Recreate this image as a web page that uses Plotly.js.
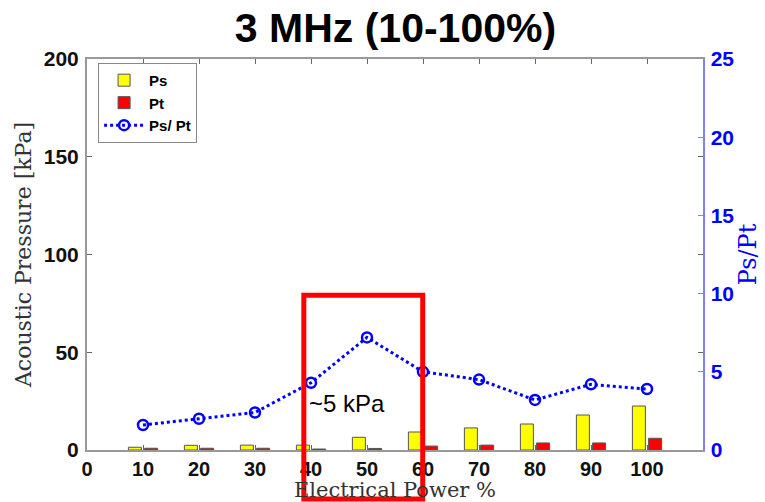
<!DOCTYPE html>
<html>
<head>
<meta charset="utf-8">
<script src="https://cdn.plot.ly/plotly-3.0.1.min.js"></script>
<style>html,body{margin:0;padding:0;background:#fff;}#chart{width:765px;height:502px;}</style>
</head>
<body>
<div id="chart"></div>
<script>
// Data
const power = [10, 20, 30, 40, 50, 60, 70, 80, 90, 100];   // Electrical Power %
const ps = [1.4, 2.4, 2.5, 2.5, 6.5, 9.2, 11.3, 13.3, 17.9, 22.5]; // kPa
const pt = [0.9, 0.9, 0.9, 0.5, 0.8, 2.0, 2.5, 3.6, 3.6, 6.0];    // kPa
const ratio = [1.6, 2.0, 2.4, 4.3, 7.2, 5.0, 4.5, 3.2, 4.2, 3.9]; // Ps/Pt
const xTicks = [0, 10, 20, 30, 40, 50, 60, 70, 80, 90, 100];
const yTicks = [0, 50, 100, 150, 200];
const y2Ticks = [0, 5, 10, 15, 20, 25];

const sans = 'Liberation Sans, Arial, sans-serif';
const serif = 'DejaVu Serif, Liberation Serif, serif';
const tickFont = {family: sans, size: 21, color: '#111', weight: 'bold'};

const traces = [
  {type: 'bar', name: 'Ps', x: power, y: ps,
   marker: {color: '#ffff00', line: {color: '#555', width: 1}}},
  {type: 'bar', name: 'Pt', x: power, y: pt,
   marker: {color: '#ff0000', line: {color: '#555', width: 1}}},
  {type: 'scatter', mode: 'lines+markers', name: 'Ps/ Pt', x: power, y: ratio, yaxis: 'y2',
   line: {color: '#0000ff', width: 3, dash: 'dot'},
   marker: {symbol: 'circle-open', size: 10, color: '#0000ff', line: {width: 2.5, color: '#0000ff'}}}
];

const layout = {
  width: 765, height: 502,
  margin: {l: 87, r: 62, t: 59, b: 52},
  paper_bgcolor: '#fff', plot_bgcolor: '#fff',
  barmode: 'group', bargap: 0.42, bargroupgap: 0.2,
  showlegend: true,
  title: {text: '<b>3 MHz (10-100%)</b>', x: 0.517, xanchor: 'center', y: 0.945, yanchor: 'middle',
          font: {family: sans, size: 41, color: '#000'}},
  xaxis: {range: [0, 110], tickvals: xTicks, ticktext: xTicks.map(String),
          ticks: 'inside', ticklen: 5, tickcolor: '#666', mirror: 'ticks',
          showline: true, linecolor: '#999', linewidth: 2, showgrid: false, zeroline: false,
          tickfont: Object.assign({}, tickFont, {size: 20}), ticklabelstandoff: 0,
          title: {text: 'Electrical Power %', standoff: 6,
                  font: {family: serif, size: 21, color: '#333'}}},
  yaxis: {range: [0, 200], tickvals: yTicks,
          ticks: 'inside', ticklen: 5, tickcolor: '#666', mirror: 'ticks',
          showline: true, linecolor: '#999', linewidth: 2, showgrid: false, zeroline: false,
          tickfont: tickFont, ticklabelstandoff: 2,
          title: {text: 'Acoustic Pressure [kPa]', standoff: 6,
                  font: {family: serif, size: 22, color: '#333'}}},
  yaxis2: {range: [0, 25], tickvals: y2Ticks, overlaying: 'y', side: 'right',
           ticks: 'inside', ticklen: 5, tickcolor: '#8080ff',
           showline: true, linecolor: '#8080ff', linewidth: 1.5, showgrid: false, zeroline: false,
           tickfont: Object.assign({}, tickFont, {color: '#0000ff'}), ticklabelstandoff: 2,
           title: {text: 'Ps/Pt', standoff: 0,
                   font: {family: serif, size: 24, color: '#0000ff'}}},
  legend: {x: 0.018, y: 0.99, xanchor: 'left', yanchor: 'top',
           bgcolor: '#fff', bordercolor: '#888', borderwidth: 1,
           font: {family: sans, size: 15, color: '#000', weight: 'bold'},
           tracegroupgap: 0, itemwidth: 40},
  shapes: [
    {type: 'rect', xref: 'paper', yref: 'paper', x0: 0.352, x1: 0.545, y0: -0.125, y1: 0.396,
     line: {color: '#ff0000', width: 5}, fillcolor: 'rgba(0,0,0,0)'}
  ],
  annotations: [
    {text: '~5 kPa', xref: 'x', yref: 'y', x: 39.3, y: 24, xanchor: 'left', yanchor: 'middle',
     showarrow: false, font: {family: sans, size: 24, color: '#000'}}
  ]
};

Plotly.newPlot('chart', traces, layout, {displayModeBar: false, staticPlot: true});
</script>
</body>
</html>
